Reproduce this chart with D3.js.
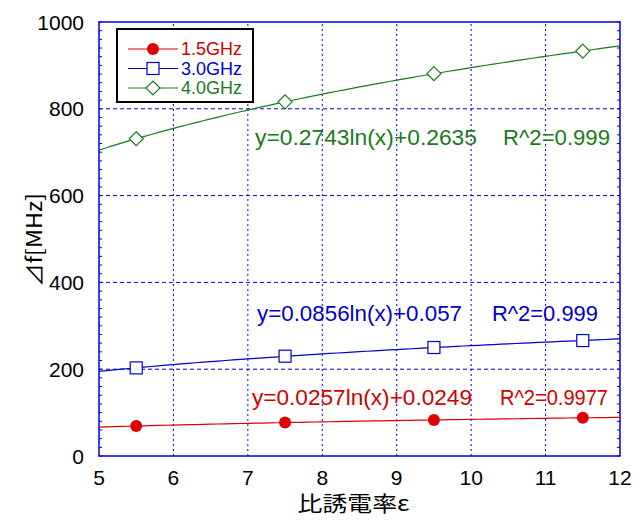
<!DOCTYPE html>
<meta charset="utf-8">
<style>
body { margin: 0; background: #fff; }
text { font-family: "Liberation Sans", Arial, "Noto Sans CJK JP", sans-serif; }
.jp { font-family: "Noto Sans CJK JP", "Liberation Sans", sans-serif; }
</style>
<body>
<script src="https://d3js.org/d3.v7.min.js"></script>
<script>

// permittivity values where measurements were taken
const eps = [5.5, 7.5, 9.5, 11.5];

// delta f [MHz] per frequency
const df15 = [69, 77, 83, 88];
const df30 = [203, 230, 250, 266];
const df40 = [731, 816, 881, 933];

const seriesNames = ["1.5GHz", "3.0GHz", "4.0GHz"];
const fitLabels = ["y=0.0257ln(x)+0.0249", "y=0.0856ln(x)+0.057", "y=0.2743ln(x)+0.2635"];
const r2Labels = ["R^2=0.9977", "R^2=0.999", "R^2=0.999"];

const xTicks = [5, 6, 7, 8, 9, 10, 11, 12];
const yTicks = [0, 200, 400, 600, 800, 1000];

const width = 644, height = 520;
const margin = {left: 99, right: 24, top: 22, bottom: 64};

const svg = d3.select("body").append("svg")
    .attr("width", width)
    .attr("height", height);

const x = d3.scaleLinear().domain([5, 12]).range([margin.left, width - margin.right]);
const y = d3.scaleLinear().domain([0, 1000]).range([height - margin.bottom, margin.top]);

const blue = "#0000e0";
const colors = ["#e00000", "#0000cc", "#1a7a1a"];
const textColors = ["#d00000", "#0000cc", "#1a7a1a"];

// grid
svg.append("g")
  .selectAll("line")
  .data(xTicks.slice(1, -1))
  .join("line")
    .attr("x1", d => x(d)).attr("x2", d => x(d))
    .attr("y1", y(0)).attr("y2", y(1000))
    .attr("stroke", blue)
    .attr("stroke-width", 1)
    .attr("stroke-dasharray", "2,3");

svg.append("g")
  .selectAll("line")
  .data(yTicks.slice(1, -1))
  .join("line")
    .attr("x1", x(5)).attr("x2", x(12))
    .attr("y1", d => y(d)).attr("y2", d => y(d))
    .attr("stroke", blue)
    .attr("stroke-width", 1)
    .attr("stroke-dasharray", "4,3");

// minor ticks on left/right
const minor = d3.range(0, 1001, 20);
svg.append("g")
  .selectAll("line")
  .data(minor)
  .join("line")
    .attr("x1", x(5)).attr("x2", x(5) + 3)
    .attr("y1", d => y(d)).attr("y2", d => y(d))
    .attr("stroke", blue);
svg.append("g")
  .selectAll("line")
  .data(minor)
  .join("line")
    .attr("x1", x(12)).attr("x2", x(12) - 3)
    .attr("y1", d => y(d)).attr("y2", d => y(d))
    .attr("stroke", blue);

// frame
svg.append("rect")
    .attr("x", x(5)).attr("y", y(1000))
    .attr("width", x(12) - x(5)).attr("height", y(0) - y(1000))
    .attr("fill", "none")
    .attr("stroke", blue)
    .attr("stroke-width", 1.5);

// tick labels
svg.append("g")
  .selectAll("text")
  .data(yTicks)
  .join("text")
    .attr("x", x(5) - 15)
    .attr("y", d => y(d))
    .attr("dy", "0.36em")
    .attr("text-anchor", "end")
    .attr("font-size", 21)
    .text(d => d);

svg.append("g")
  .selectAll("text")
  .data(xTicks)
  .join("text")
    .attr("x", d => x(d))
    .attr("y", y(0) + 29)
    .attr("text-anchor", "middle")
    .attr("font-size", 21)
    .text(d => d);

// axis titles
svg.append("text")
    .attr("class", "jp")
    .attr("x", (x(5) + x(12)) / 2 - 6)
    .attr("y", 511)
    .attr("text-anchor", "middle")
    .attr("font-size", 21)
    .attr("textLength", 112)
    .attr("lengthAdjust", "spacingAndGlyphs")
    .text("比誘電率ε");

svg.append("text")
    .attr("class", "jp")
    .attr("transform", `translate(42,240) rotate(-90)`)
    .attr("text-anchor", "middle")
    .attr("font-size", 21)
    .attr("textLength", 94)
    .attr("lengthAdjust", "spacingAndGlyphs")
    .text("⊿f[MHz]");

// log trendline fitted from the points (least squares on ln x)
function logFit(xs, ys) {
  const lx = xs.map(Math.log);
  const mx = d3.mean(lx), my = d3.mean(ys);
  const b = d3.sum(lx, (v, i) => (v - mx) * (ys[i] - my)) / d3.sum(lx, v => (v - mx) ** 2);
  return v => my + b * (Math.log(v) - mx);
}

const series = [df15, df30, df40];
const curveX = d3.range(5, 12.001, 0.1);
const line = d3.line().x(d => x(d[0])).y(d => y(d[1]));

series.forEach((vals, i) => {
  const f = logFit(eps, vals);
  svg.append("path")
      .attr("d", line(curveX.map(v => [v, f(v)])))
      .attr("fill", "none")
      .attr("stroke", colors[i])
      .attr("stroke-width", 1.2);
});

function marker(g, i, cx, cy) {
  if (i === 0) {
    g.append("circle").attr("cx", cx).attr("cy", cy).attr("r", 6).attr("fill", colors[0]);
  } else if (i === 1) {
    g.append("rect").attr("x", cx - 6).attr("y", cy - 6).attr("width", 12).attr("height", 12)
      .attr("fill", "white").attr("stroke", colors[1]).attr("stroke-width", 1.2);
  } else {
    g.append("path").attr("d", `M${cx},${cy - 7}L${cx + 7},${cy}L${cx},${cy + 7}L${cx - 7},${cy}Z`)
      .attr("fill", "white").attr("stroke", colors[2]).attr("stroke-width", 1.2);
  }
}

series.forEach((vals, i) => {
  const g = svg.append("g");
  vals.forEach((v, j) => marker(g, i, x(eps[j]), y(v)));
});

// equation labels
const eqY = [397, 313, 137];
const eqX = [252, 257, 255];
const eqW = [220, 205, 222];
const r2X = [500, 492, 503];
const r2W = [108, 106, 107];
fitLabels.forEach((t, i) => {
  svg.append("text")
      .attr("x", eqX[i]).attr("y", eqY[i]).attr("dy", "0.36em")
      .attr("font-size", 22)
      .attr("textLength", eqW[i])
      .attr("lengthAdjust", "spacingAndGlyphs")
      .attr("fill", textColors[i])
      .text(t);
  svg.append("text")
      .attr("x", r2X[i]).attr("y", eqY[i]).attr("dy", "0.36em")
      .attr("font-size", 22)
      .attr("textLength", r2W[i])
      .attr("lengthAdjust", "spacingAndGlyphs")
      .attr("fill", textColors[i])
      .text(r2Labels[i]);
});

// legend
const lg = svg.append("g");
lg.append("rect")
    .attr("x", 117).attr("y", 29).attr("width", 136).attr("height", 73)
    .attr("fill", "white").attr("stroke", "#000").attr("stroke-width", 2);

seriesNames.forEach((name, i) => {
  const ly = 49 + i * 19.5;
  lg.append("line")
      .attr("x1", 128).attr("x2", 178).attr("y1", ly).attr("y2", ly)
      .attr("stroke", colors[i]).attr("stroke-width", 1);
  marker(lg, i, 153, ly);
  lg.append("text")
      .attr("x", 181).attr("y", ly).attr("dy", "0.36em")
      .attr("font-size", 18)
      .attr("textLength", 61)
      .attr("lengthAdjust", "spacingAndGlyphs")
      .attr("fill", textColors[i])
      .text(name);
});

</script>
